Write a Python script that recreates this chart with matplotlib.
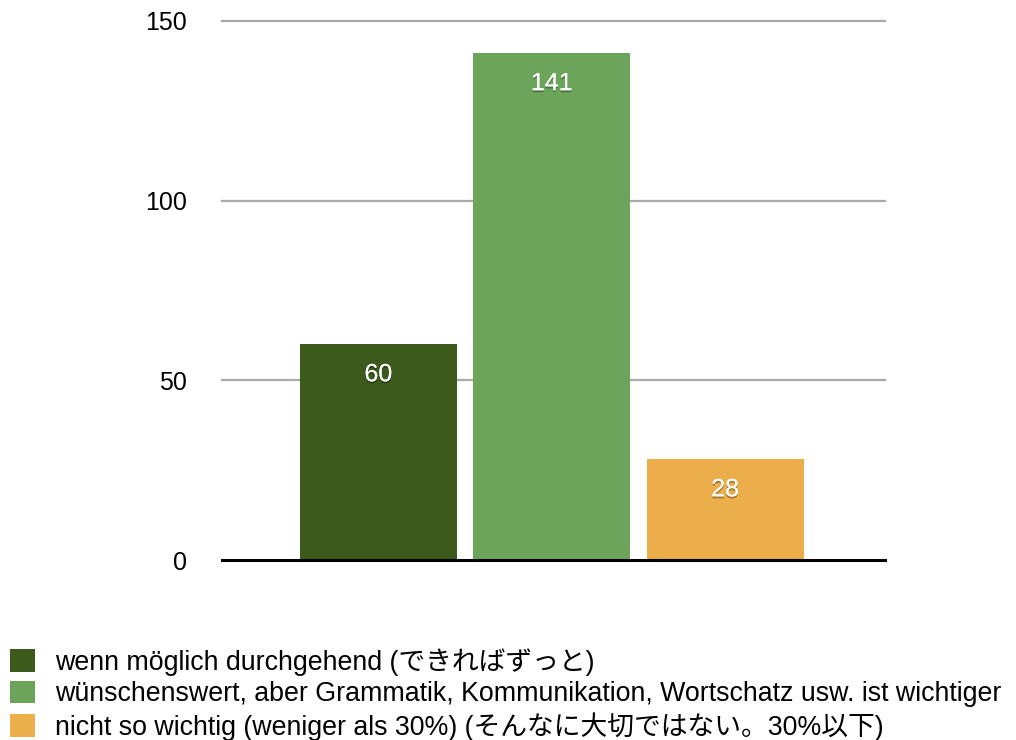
import matplotlib
matplotlib.use("Agg")
import matplotlib.pyplot as plt
import matplotlib.patheffects as pe

plt.rcParams['font.family'] = ['Liberation Sans', 'Noto Sans CJK JP', 'DejaVu Sans']

categories = [
    "wenn möglich durchgehend (できればずっと)",
    "wünschenswert, aber Grammatik, Kommunikation, Wortschatz usw. ist wichtiger",
    "nicht so wichtig (weniger als 30%) (そんなに大切ではない。30%以下)",
]
values = [60, 141, 28]
colors = ["#3b5a1b", "#6ca55a", "#ebae4b"]
yticks = [0, 50, 100, 150]

fig = plt.figure(figsize=(10.16, 7.40), dpi=100)
ax = fig.add_axes([222/1016, 1-560/740, (885-222)/1016, (560-21)/740])

x = list(range(len(values)))
bars = ax.bar(x, values, width=0.905, color=colors, zorder=3)

ax.set_xlim(-0.902, 2.922)
ax.set_ylim(0, 150)
ax.set_yticks(yticks)
ax.set_yticklabels([str(t) for t in yticks], fontsize=18)
ax.tick_params(axis='y', length=0, pad=25)
ax.set_xticks([])
for s in ax.spines.values():
    s.set_visible(False)
for t in yticks[1:]:
    ax.axhline(t, color="#a9a9a9", lw=1.6, zorder=1, clip_on=False)
ax.axhline(0, color="black", lw=2.2, zorder=4, clip_on=False)

for xi, v in zip(x, values):
    ax.annotate(str(v), xy=(xi, v), xytext=(0, -21.5), textcoords="offset points",
                ha="center", va="center", fontsize=18, color="white", zorder=5,
                path_effects=[pe.withSimplePatchShadow(offset=(0, -1.5), shadow_rgbFace="black", alpha=0.3),
                              pe.Normal()])

fig.legend(bars, categories, loc="upper left", bbox_to_anchor=(10/1016, 1-648/740),
           frameon=False, fontsize=19.3, handlelength=0.93, handleheight=0.93,
           handletextpad=0.75, labelspacing=0.18, borderaxespad=0, borderpad=0)

fig.savefig("out.png", dpi=100)
